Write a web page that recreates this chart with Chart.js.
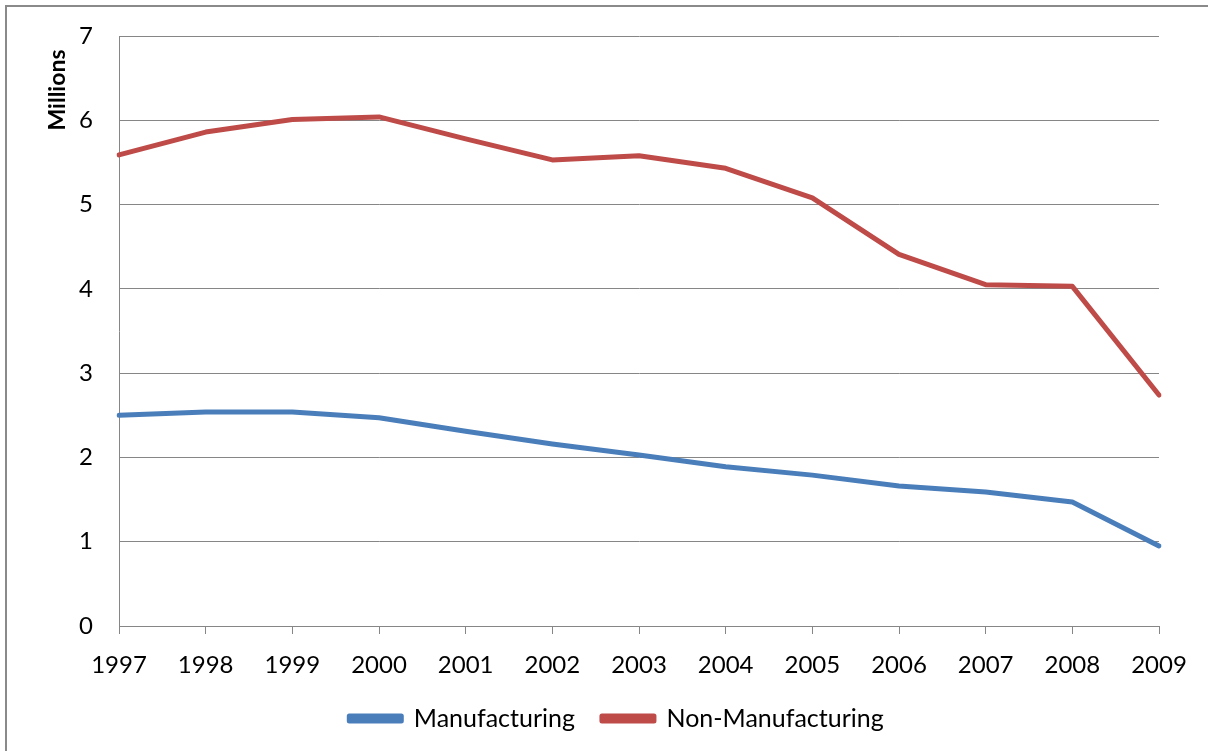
<!DOCTYPE html>
<html>
<head>
<meta charset="utf-8">
<script src="https://cdn.jsdelivr.net/npm/chart.js@4.4.1/dist/chart.umd.min.js"></script>
<style>
  html, body { margin: 0; padding: 0; background: #ffffff; }
  #wrap { width: 1208px; height: 751px; position: relative; }
</style>
</head>
<body>
<div id="wrap"><canvas id="chart" width="1208" height="751"></canvas></div>
<script>
// Years on the category axis
const years = ['1997', '1998', '1999', '2000', '2001', '2002', '2003',
               '2004', '2005', '2006', '2007', '2008', '2009'];

// Employment, in millions
const manufacturing = [2.50, 2.54, 2.54, 2.47, 2.31, 2.16, 2.03,
                       1.89, 1.79, 1.66, 1.59, 1.47, 0.95];
const nonManufacturing = [5.59, 5.86, 6.01, 6.04, 5.78, 5.53, 5.58,
                          5.43, 5.08, 4.41, 4.05, 4.03, 2.74];

const yAxisTitle = 'Millions';

const FONT = 'Lato, "Open Sans", sans-serif';
const AXIS_GREY = '#868686';

// White page with the grey outer frame of the chart object
const framePlugin = {
  id: 'frame',
  beforeDraw(chart) {
    const ctx = chart.ctx;
    ctx.save();
    ctx.fillStyle = '#ffffff';
    ctx.fillRect(0, 0, chart.width, chart.height);
    ctx.strokeStyle = '#8a8a8a';
    ctx.lineWidth = 2;
    ctx.beginPath();
    ctx.moveTo(6, chart.height);
    ctx.lineTo(6, 6);
    ctx.lineTo(chart.width, 6);
    ctx.stroke();
    ctx.restore();
  }
};

// Rotated value-axis title placed near the top of the axis
const axisTitlePlugin = {
  id: 'axisTitle',
  afterDraw(chart) {
    const ctx = chart.ctx;
    ctx.save();
    ctx.translate(58, 90);
    ctx.rotate(-Math.PI / 2);
    ctx.font = 'bold 23px ' + FONT;
    ctx.fillStyle = '#000000';
    ctx.textAlign = 'center';
    ctx.textBaseline = 'middle';
    ctx.fillText(yAxisTitle, 0, 0);
    ctx.restore();
  }
};

new Chart(document.getElementById('chart'), {
  type: 'line',
  data: {
    labels: years,
    datasets: [
      {
        label: 'Manufacturing',
        data: manufacturing,
        borderColor: '#4a7ebb',
        backgroundColor: '#4a7ebb',
        borderWidth: 5,
        pointRadius: 0,
        tension: 0,
        borderCapStyle: 'round',
        borderJoinStyle: 'round'
      },
      {
        label: 'Non-Manufacturing',
        data: nonManufacturing,
        borderColor: '#be4b48',
        backgroundColor: '#be4b48',
        borderWidth: 5,
        pointRadius: 0,
        tension: 0,
        borderCapStyle: 'round',
        borderJoinStyle: 'round'
      }
    ]
  },
  options: {
    responsive: false,
    animation: false,
    devicePixelRatio: 1,
    layout: { padding: { left: 74, right: 49, top: 36, bottom: 10 } },
    plugins: {
      title: { display: false },
      tooltip: { enabled: false },
      legend: {
        position: 'bottom',
        labels: {
          font: { family: FONT, size: 25 },
          color: '#000000',
          boxWidth: 52,
          boxHeight: 5,
          padding: 27
        }
      }
    },
    scales: {
      x: {
        offset: false,
        grid: {
          drawOnChartArea: false,
          drawTicks: true,
          tickLength: 8,
          color: AXIS_GREY,
          lineWidth: 1
        },
        border: { color: AXIS_GREY, width: 1 },
        ticks: {
          font: { family: FONT, size: 24 },
          color: '#000000',
          padding: 17,
          maxRotation: 0,
          autoSkip: false
        },
        afterFit(scale) { scale.height = 53; }
      },
      y: {
        min: 0,
        max: 7,
        grid: {
          color: AXIS_GREY,
          lineWidth: 1,
          drawTicks: false
        },
        border: { color: AXIS_GREY, width: 1 },
        ticks: {
          stepSize: 1,
          font: { family: FONT, size: 24 },
          color: '#000000',
          padding: 26
        },
        afterFit(scale) {
          scale.width = 45;
          scale.paddingTop = 0;
          scale.paddingBottom = 0;
        }
      }
    }
  },
  plugins: [framePlugin, axisTitlePlugin]
});
</script>
</body>
</html>
